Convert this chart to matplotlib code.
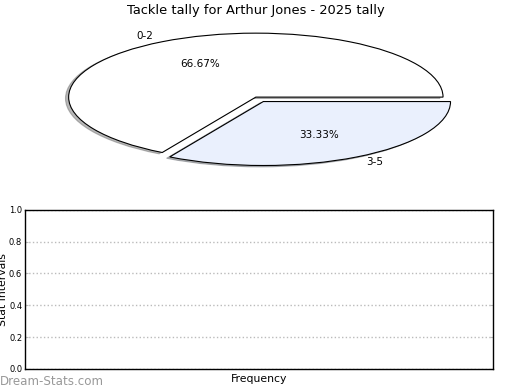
import matplotlib
matplotlib.use('Agg')
import matplotlib.pyplot as plt

# donnees du camembert
categories = ['0-2', '3-5']
valeurs = [2, 1]
couleurs = ['white', '#eaf0fd']
ecarts = [0, 0.08]

titre = 'Tackle tally for Arthur Jones - 2025 tally'
y_ticks = [0.0, 0.2, 0.4, 0.6, 0.8, 1.0]

fig = plt.figure(figsize=(5.2, 3.9), dpi=100)

ax1 = fig.add_axes([0.042, 0.546, 0.9, 0.41])
wedges, textes, pcts = ax1.pie(valeurs, labels=categories, colors=couleurs,
                               explode=ecarts, autopct='%1.2f%%',
                               shadow={'ox': -0.012, 'oy': -0.015, 'shade': 0.55},
                               startangle=0, textprops={'fontsize': 7.5},
                               wedgeprops={'edgecolor': 'black', 'linewidth': 0.8})
for t in textes:
    x = t.get_position()[0]
    t.set_ha('left' if x > 0 else 'right')
ax1.set_aspect('auto')
ax1.set_xlim(-1.25, 1.25)
ax1.set_ylim(-1.25, 1.25)
ax1.set_title(titre, fontsize=9.4, pad=1.5)

ax2 = fig.add_axes([0.048, 0.054, 0.9, 0.408])
ax2.set_ylim(0, 1)
ax2.set_xlim(0, 1)
ax2.set_yticks(y_ticks)
ax2.set_yticklabels(['%.1f' % v for v in y_ticks], fontsize=6)
ax2.set_xticks([])
ax2.tick_params(axis='y', direction='in', length=2, color='#bbbbbb', right=True, pad=2)
ax2.yaxis.grid(True, linestyle=':', color='#bbbbbb', linewidth=1)
for s in ax2.spines.values():
    s.set_linewidth(1)
ax2.set_xlabel('Frequency', fontsize=7.8, labelpad=4)
ax2.set_ylabel('Stat Intervals', fontsize=7.8, labelpad=0)
ax2.yaxis.set_label_coords(-0.036, 0.5)

fig.text(0.0, 0.006, 'Dream-Stats.com', fontsize=8.6, color='#999999', ha='left', va='bottom')

fig.savefig('out.png', dpi=100)
